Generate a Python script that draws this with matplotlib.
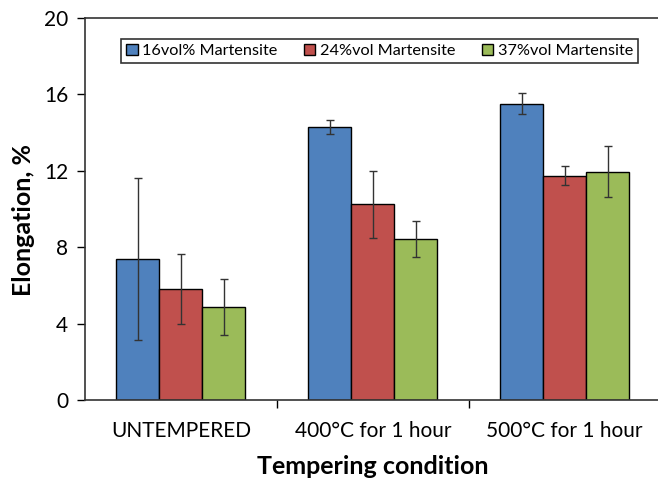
import numpy as np
import matplotlib
matplotlib.use("Agg")
import matplotlib.pyplot as plt

plt.rcParams['font.family'] = ['Lato', 'DejaVu Sans']

conditions = ["UNTEMPERED", "400°C for 1 hour", "500°C for 1 hour"]
series = ["16vol% Martensite", "24%vol Martensite", "37%vol Martensite"]
colors = ["#4F81BD", "#C0504D", "#9BBB59"]

# elongation (%) and error (+/-) per series, one value per condition
elong_16 = [7.4, 14.3, 15.5]
elong_24 = [5.8, 10.25, 11.75]
elong_37 = [4.85, 8.43, 11.95]
err_16 = [4.25, 0.36, 0.55]
err_24 = [1.83, 1.75, 0.5]
err_37 = [1.47, 0.93, 1.33]

values = [elong_16, elong_24, elong_37]
errors = [err_16, err_24, err_37]

fig = plt.figure(figsize=(6.58, 4.82), dpi=100)
ax = fig.add_axes([0.129, 0.1701, 0.875, 0.7925])

x = np.arange(len(conditions))
w = 0.224
for i in range(3):
    ax.bar(x + (i - 1) * w, values[i], w, color=colors[i], edgecolor="black",
           linewidth=1, label=series[i], zorder=2)
    ax.errorbar(x + (i - 1) * w, values[i], yerr=errors[i], fmt="none",
                ecolor="#333333", elinewidth=1, capsize=3, capthick=1, zorder=3)

ax.set_xlim(-0.5, 2.5)
ax.set_ylim(0, 20)
ax.set_yticks([0, 4, 8, 12, 16, 20])
ax.set_xticks([0.5, 1.5])
ax.set_xticklabels([])
ax.set_xticks(x, minor=True)
ax.set_xticklabels(conditions, minor=True)
ax.tick_params(axis="x", which="minor", length=0, pad=15, labelsize=15)
ax.tick_params(axis="x", which="major", length=6, direction="out", width=1)
ax.tick_params(axis="y", length=6, direction="out", width=1, labelsize=15, pad=6)
ax.spines["right"].set_visible(False)
for s in ["left", "bottom", "top"]:
    ax.spines[s].set_color("#333333")
    ax.spines[s].set_linewidth(1.2)

ax.set_ylabel("Elongation, %", fontsize=18, fontweight="bold")
ax.yaxis.set_label_coords(-0.087, 0.47)
ax.set_xlabel("Tempering condition", fontsize=18, fontweight="bold", labelpad=10)

leg = fig.legend(loc="center", bbox_to_anchor=(0.577, 0.894), ncol=3,
                 fontsize=11.7, frameon=True, fancybox=False, shadow=False,
                 handlelength=0.7, handleheight=0.7, handletextpad=0.3,
                 columnspacing=1.6, borderpad=0.3)
leg.get_frame().set_edgecolor("black")
leg.get_frame().set_linewidth(1.2)

fig.savefig("out.png", dpi=100)
